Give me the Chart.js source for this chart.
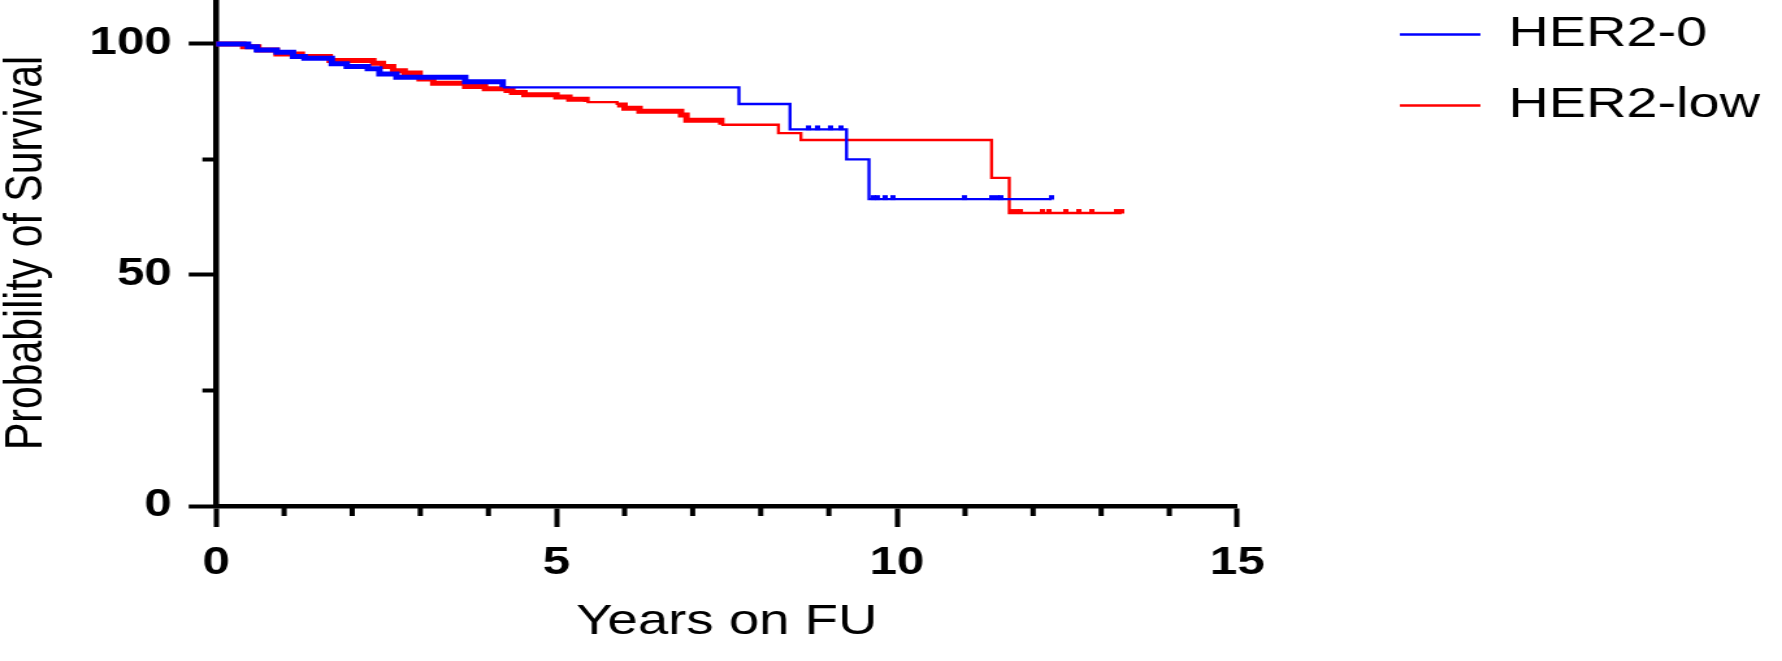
<!DOCTYPE html>
<html><head><meta charset="utf-8">
<script src="https://cdn.jsdelivr.net/npm/chart.js@4.4.1/dist/chart.umd.min.js"></script>
<style>
html,body{margin:0;padding:0;background:#fff;overflow:hidden;width:1782px;height:661px}
#wrap{position:absolute;left:0;top:0;width:1371px;height:661px;transform:scaleX(1.2998);transform-origin:0 0}
#c{display:block;width:1371px;height:661px}
</style></head><body>
<div id="wrap"><canvas id="c" width="1371" height="661"></canvas></div>
<script>
// ---- data ----
const seriesNames = ['HER2-0', 'HER2-low'];
const xTickValues = [0, 5, 10, 15];
const xMinorTicks = [1, 2, 3, 4, 6, 7, 8, 9, 11, 12, 13, 14];
const yTickValues = [0, 50, 100];
const yMinorTicks = [25, 75];

const her2zeroTimes = [0, 0.47, 0.60, 0.89, 1.13, 1.30, 1.70, 1.92, 2.23, 2.40, 2.65, 3.66, 4.21, 7.68, 8.43, 9.26, 9.59, 12.27];
const her2zeroSurv  = [100, 99.4, 98.7, 98.2, 97.3, 96.9, 95.7, 95.1, 94.6, 93.5, 92.8, 91.8, 90.6, 87.0, 81.5, 75.0, 66.4, 66.4];
const her2lowTimes  = [0, 0.40, 0.62, 0.89, 1.26, 1.67, 2.31, 2.45, 2.60, 2.77, 2.99, 3.19, 3.66, 3.95, 4.27, 4.35, 4.53, 5.00, 5.19, 5.44, 5.89, 6.00, 6.22, 6.83, 6.91, 7.42, 8.26, 8.59, 11.39, 11.65, 13.30];
const her2lowSurv   = [100, 99.4, 98.7, 97.8, 97.3, 96.4, 95.8, 95.1, 94.2, 93.7, 92.4, 91.5, 90.8, 90.3, 89.9, 89.5, 89.0, 88.5, 88.0, 87.4, 86.8, 86.1, 85.4, 84.6, 83.5, 82.5, 80.7, 79.2, 71.0, 63.4, 63.4];

const her2zeroCensorTimes = [8.70, 8.83, 9.03, 9.17, 9.65, 9.71, 9.82, 9.94, 10.99, 11.39, 11.46, 11.52, 12.27];
const her2zeroCensorSurv  = [81.5, 81.5, 81.5, 81.5, 66.4, 66.4, 66.4, 66.4, 66.4, 66.4, 66.4, 66.4, 66.4];
const her2lowCensorTimes  = [11.68, 11.75, 11.82, 12.13, 12.24, 12.49, 12.67, 12.86, 13.23, 13.30];
const her2lowCensorSurv   = [63.4, 63.4, 63.4, 63.4, 63.4, 63.4, 63.4, 63.4, 63.4, 63.4];

// spans of heavy censoring (drawn thicker in the reference)
const her2zeroDense = [[0, 4.21]];
const her2lowDense  = [[0, 5.44], [5.89, 7.42]];

// ---- helpers ----
const pts = (xs, ys) => xs.map((x, i) => ({x, y: ys[i]}));
const inSpans = (spans, v) => spans.some(s => v >= s[0] && v < s[1]);
function blip(color) {
  const c = document.createElement('canvas');
  c.width = 4; c.height = 10;
  const g = c.getContext('2d');
  g.fillStyle = color; g.fillRect(0, 1, 4, 4.5);
  return c;
}
const BLUE = '#0000ff', RED = '#ff0000';
const FONT = "'Liberation Sans', Arial, sans-serif";

const minorTicks = {
  id: 'minorTicks',
  afterDraw(chart) {
    const {ctx, scales: {x, y}} = chart;
    ctx.save();
    ctx.strokeStyle = '#000'; ctx.lineWidth = 4; ctx.lineCap = 'butt';
    ctx.beginPath();
    xMinorTicks.forEach(v => { const px = x.getPixelForValue(v); ctx.moveTo(px, x.top); ctx.lineTo(px, x.top + 10); });
    yMinorTicks.forEach(v => { const py = y.getPixelForValue(v); ctx.moveTo(y.right - 10.5, py); ctx.lineTo(y.right, py); });
    ctx.stroke();
    ctx.restore();
  }
};

new Chart(document.getElementById('c'), {
  type: 'line',
  data: {
    datasets: [
      { label: 'c0', type: 'scatter', data: pts(her2zeroCensorTimes, her2zeroCensorSurv), showLine: false,
        pointStyle: blip(BLUE), pointRadius: 3, backgroundColor: BLUE, borderColor: BLUE },
      { label: 'c1', type: 'scatter', data: pts(her2lowCensorTimes, her2lowCensorSurv), showLine: false,
        pointStyle: blip(RED), pointRadius: 3, backgroundColor: RED, borderColor: RED },
      { label: seriesNames[0], data: pts(her2zeroTimes, her2zeroSurv), stepped: 'before',
        borderColor: BLUE, backgroundColor: BLUE, borderWidth: 2.4, pointRadius: 0, pointStyle: 'line', fill: false,
        segment: { borderWidth: ctx => inSpans(her2zeroDense, ctx.p0.parsed.x) ? 5 : 2.4 } },
      { label: seriesNames[1], data: pts(her2lowTimes, her2lowSurv), stepped: 'before',
        borderColor: RED, backgroundColor: RED, borderWidth: 2.4, pointRadius: 0, pointStyle: 'line', fill: false,
        segment: { borderWidth: ctx => inSpans(her2lowDense, ctx.p0.parsed.x) ? 5 : 2.4 } }
    ]
  },
  options: {
    responsive: false,
    devicePixelRatio: 1,
    animation: false,
    events: [],
    layout: { autoPadding: false, padding: { top: -15, left: 0, right: 7, bottom: 0 } },
    plugins: {
      tooltip: { enabled: false },
      legend: {
        position: 'right', align: 'start', maxWidth: 420,
        labels: {
          filter: item => item.datasetIndex >= 2,
          usePointStyle: true, pointStyleWidth: 62, padding: 28,
          color: '#000', font: { family: FONT, size: 43 }
        }
      }
    },
    scales: {
      x: {
        type: 'linear', min: 0, max: 15,
        afterBuildTicks: s => { s.ticks = xTickValues.map(v => ({value: v})); },
        afterFit: s => { s.height = 155; },
        grid: { drawOnChartArea: false, drawTicks: true, tickLength: 21, tickWidth: 4, tickColor: '#000' },
        border: { display: true, width: 4.5, color: '#000' },
        ticks: { padding: 14, color: '#000', font: { family: FONT, size: 38, weight: 'bold' }, maxRotation: 0, autoSkip: false },
        title: { display: true, text: 'Years on FU', color: '#000', font: { family: FONT, size: 42 }, padding: { top: 10, bottom: 13 } }
      },
      y: {
        type: 'linear', min: 0, max: 109.5,
        afterBuildTicks: s => { s.ticks = yTickValues.map(v => ({value: v})); },
        afterFit: s => { s.width = 166.2; s.paddingTop = 0; s.paddingBottom = 0; },
        grid: { drawOnChartArea: false, drawTicks: true, tickLength: 21, tickWidth: 4, tickColor: '#000' },
        border: { display: true, width: 4.5, color: '#000' },
        ticks: { padding: 13, color: '#000', font: { family: FONT, size: 38, weight: 'bold' }, autoSkip: false },
        title: { display: true, text: 'Probability of Survival', color: '#000', font: { family: FONT, size: 41, lineHeight: 1 }, padding: { top: 0, bottom: 0 } }
      },
      gap: {
        type: 'linear', position: 'right', display: true,
        afterFit: s => { s.width = 97; s.paddingTop = 0; s.paddingBottom = 0; },
        grid: { display: false }, border: { display: false }, ticks: { display: false }
      }
    }
  },
  plugins: [minorTicks]
});
</script>
</body></html>
